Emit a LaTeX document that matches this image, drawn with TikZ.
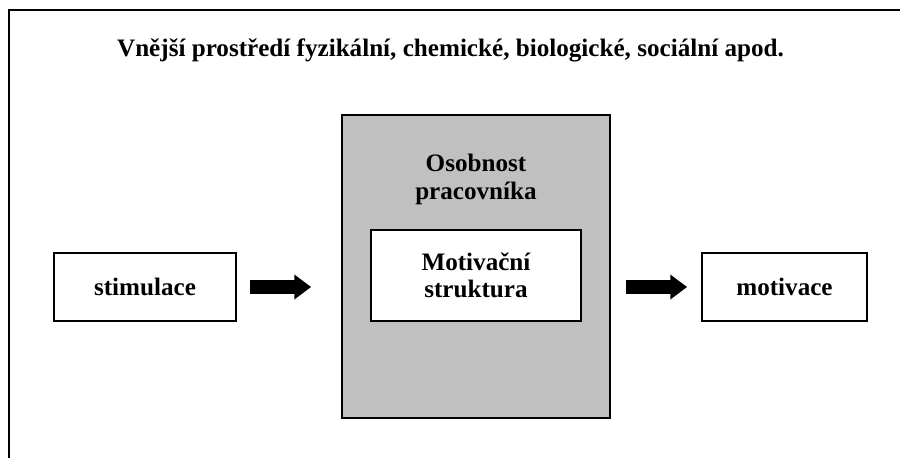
\documentclass[tikz,border=0pt]{standalone}
\usepackage{fontspec}
\setmainfont{Liberation Serif}
\usetikzlibrary{arrows.meta, positioning}
\definecolor{boxGray}{HTML}{C0C0C0}
\tikzset{
  box/.style={draw=black, line width=1pt, fill=white, align=center,
              font=\fontsize{14.3}{15.6}\selectfont\bfseries},
  flow/.style={-{Triangle[length=9.6pt, width=13.6pt]}, line width=8pt},
}

\begin{document}
\begin{tikzpicture}[x=0.02cm, y=-0.02cm]
\useasboundingbox (0,0) rectangle (900,457);
\clip (0,0) rectangle (900,457);
\draw[line width=1pt] (9,10) rectangle (920,480);
\node[font=\fontsize{14.3}{16}\selectfont\bfseries] (env) at (450.5,50)
  {Vnější prostředí fyzikální, chemické, biologické, sociální apod.};
\node[box, fill=boxGray, minimum width=5.36cm, minimum height=6.06cm] (osob) at (476,266.5) {};
\node[below=0.8cm of osob.north, inner sep=0, align=center,
      font=\fontsize{14.3}{15.6}\selectfont\bfseries] (osobLbl) {Osobnost\\pracovníka};
\node[box, minimum width=4.2cm, minimum height=1.82cm, below=2.3cm of osob.north] (motStr) {Motivační\\struktura};
\node[box, minimum width=3.64cm, minimum height=1.36cm] (stim) at (145,287) {stimulace};
\node[box, minimum width=3.3cm, minimum height=1.36cm] (motiv) at (784.5,287) {motivace};
\draw[flow, shorten <=0.26cm, shorten >=0.6cm] (stim.east) -- (stim.east -| osob.west);
\draw[flow, shorten <=0.3cm, shorten >=0.28cm] (osob.east |- motiv.west) -- (motiv.west);
\end{tikzpicture}
\end{document}
